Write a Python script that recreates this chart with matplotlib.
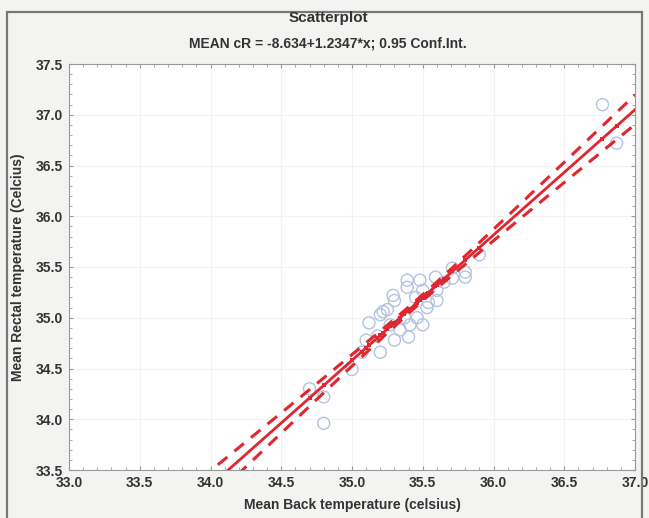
import numpy as np
import matplotlib
matplotlib.use("Agg")
import matplotlib.pyplot as plt
from matplotlib.patches import Rectangle
from matplotlib.ticker import MultipleLocator

plt.rcParams['font.family'] = ['Liberation Sans', 'DejaVu Sans']

# Data
back_temp = [34.80, 34.80, 34.70, 35.00, 35.07, 35.10, 35.20, 35.18, 35.20, 35.22,
             35.30, 35.30, 35.29, 35.39, 35.39, 35.40, 35.41, 35.46, 35.48, 35.50,
             35.50, 35.53, 35.54, 35.60, 35.60, 35.59, 35.71, 35.71, 35.80, 35.80,
             35.37, 35.34, 35.27, 35.12, 35.25, 35.45, 35.65, 35.90, 36.77, 36.87]
rectal_temp = [33.96, 34.22, 34.30, 34.49, 34.66, 34.78, 34.66, 34.82, 35.03, 35.06,
               34.78, 35.17, 35.22, 35.37, 35.30, 34.81, 34.93, 35.00, 35.37, 35.27,
               34.93, 35.10, 35.15, 35.27, 35.17, 35.40, 35.49, 35.39, 35.40, 35.45,
               35.00, 34.88, 34.93, 34.95, 35.08, 35.20, 35.35, 35.62, 37.10, 36.72]
intercept = -8.634
slope = 1.2347
ci_center = 35.5
ci_base = 0.03
ci_growth = 0.095

title = "Scatterplot"
subtitle = "MEAN cR = -8.634+1.2347*x; 0.95 Conf.Int."
xlabel = "Mean Back temperature (celsius)"
ylabel = "Mean Rectal temperature (Celcius)"
xticks = [33.0, 33.5, 34.0, 34.5, 35.0, 35.5, 36.0, 36.5, 37.0]
yticks = [33.5, 34.0, 34.5, 35.0, 35.5, 36.0, 36.5, 37.0, 37.5]

fig = plt.figure(figsize=(6.49, 5.18), dpi=100)
fig.patch.set_facecolor("#f3f3f1")
fig.patches.append(Rectangle((7/649, -0.01), (642-7)/649, 1 - 12/518 + 0.01,
                             transform=fig.transFigure, fill=False,
                             edgecolor="#777777", lw=1.6))
ax = fig.add_axes([69/649, 1-470/518, (635-69)/649, (470-64)/518])
ax.set_facecolor("white")

x = np.array(back_temp)
y = np.array(rectal_temp)
xs = np.linspace(33.0, 37.0, 200)
fit = intercept + slope * xs
half = np.sqrt(ci_base**2 + (ci_growth * (xs - ci_center))**2)

ax.scatter(x, y, s=75, facecolors="none", edgecolors="#b4c2e0", linewidths=1.0, zorder=2)
ax.plot(xs, fit, color="#e0262e", lw=2.0, zorder=3)
ax.plot(xs, fit + half, color="#e0262e", lw=2.2, ls=(0, (4, 3)), zorder=3)
ax.plot(xs, fit - half, color="#e0262e", lw=2.2, ls=(0, (4, 3)), zorder=3)
ax.scatter(x, intercept + slope * x, s=10, marker="s", color="#e0262e", zorder=4, linewidths=0)

ax.set_xlim(33.0, 37.0)
ax.set_ylim(33.5, 37.5)
ax.set_xticks(xticks)
ax.set_yticks(yticks)
ax.set_xticklabels([f"{v:.1f}" for v in xticks])
ax.set_yticklabels([f"{v:.1f}" for v in yticks])
ax.xaxis.set_minor_locator(MultipleLocator(0.1))
ax.yaxis.set_minor_locator(MultipleLocator(0.1))
ax.tick_params(which="both", direction="in", top=True, right=True, color="#999999")
ax.tick_params(which="major", length=3, labelsize=10, labelcolor="#333333", pad=4)
ax.tick_params(which="minor", length=2)
for lab in ax.get_xticklabels() + ax.get_yticklabels():
    lab.set_fontweight("bold")
for sp in ax.spines.values():
    sp.set_color("#9a9a9a")
ax.grid(True, color="#f2f2f2", lw=0.8, zorder=0)

ax.set_xlabel(xlabel, fontsize=10, fontweight="bold", color="#333333", labelpad=6)
ax.set_ylabel(ylabel, fontsize=10, fontweight="bold", color="#333333", labelpad=8)
fig.text(0.5 + 7/649/2, 1 - 18/518, title, ha="center", va="center", fontsize=11,
         fontweight="bold", color="#333333")
fig.text(0.5 + 7/649/2, 1 - 44/518, subtitle, ha="center", va="center", fontsize=10,
         fontweight="bold", color="#333333")

fig.savefig("out.png", dpi=100, facecolor=fig.get_facecolor())
